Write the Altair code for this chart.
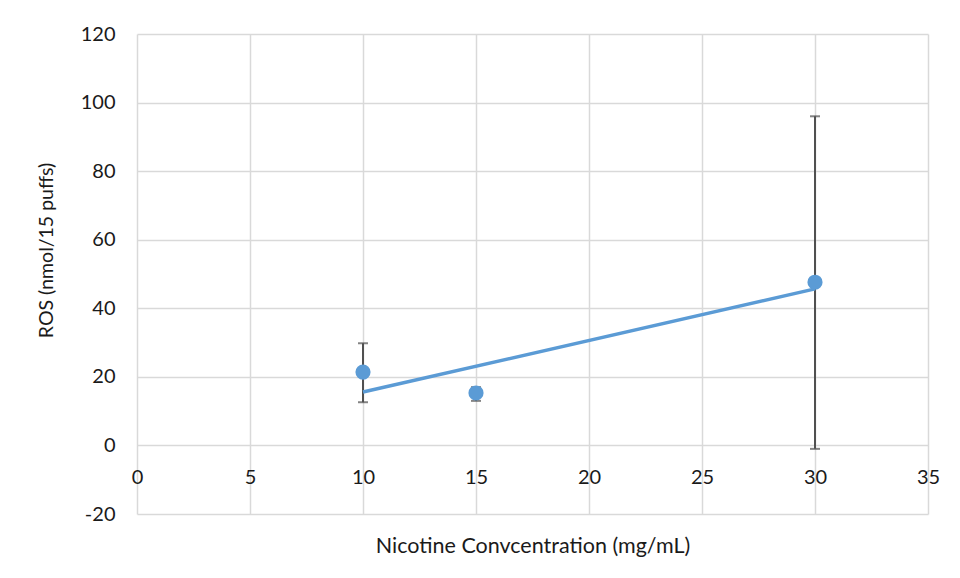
import altair as alt
import pandas as pd

conc = [10, 15, 30]
ros = [21.4, 15.3, 47.6]
err_low = [12.6, 13.0, -1.0]
err_high = [29.8, 17.0, 96.0]

x_ticks = [0, 5, 10, 15, 20, 25, 30, 35]
y_ticks = [-20, 0, 20, 40, 60, 80, 100, 120]

df = pd.DataFrame({"conc": conc, "ros": ros, "lo": err_low, "hi": err_high})

FONT = "Lato"
BLUE = "#5B9BD5"
GREY = "#505050"
TXT = "#1a1a1a"

xscale = alt.Scale(domain=[0, 35], nice=False, zero=False)
yscale = alt.Scale(domain=[-20, 120], nice=False, zero=False)

x_enc = alt.X(
    "conc:Q",
    scale=xscale,
    axis=alt.Axis(
        values=x_ticks,
        title="Nicotine Convcentration (mg/mL)",
        titleFontSize=21.5,
        offset=-69,
        domain=False,
        ticks=False,
        labelPadding=22,
        labelFlush=False,
        labelExpr="'' + datum.value",
        grid=True,
        titleY=101,
        titleBaseline="middle",
    ),
)
y_enc = alt.Y(
    "ros:Q",
    scale=yscale,
    axis=alt.Axis(
        values=y_ticks,
        title="ROS (nmol/15 puffs)",
        titleFontSize=19.5,
        domain=False,
        ticks=False,
        labelPadding=22,
        labelFlush=False,
        labelExpr="'' + datum.value",
        grid=True,
        titleAngle=-90,
        titleX=-91,
        titleY=216,
        titleAlign="center",
        titleBaseline="middle",
    ),
)

base = alt.Chart(df)

bars = base.mark_rule(color=GREY, strokeWidth=2).encode(
    x=x_enc, y=alt.Y("lo:Q", scale=yscale), y2="hi:Q"
)
cap_lo = base.mark_tick(color=GREY, thickness=2, size=10, orient="horizontal").encode(
    x="conc:Q", y=alt.Y("lo:Q", scale=yscale)
)
cap_hi = base.mark_tick(color=GREY, thickness=2, size=10, orient="horizontal").encode(
    x="conc:Q", y=alt.Y("hi:Q", scale=yscale)
)
trend = base.transform_regression("conc", "ros", extent=[10, 30]).mark_line(
    color=BLUE, strokeWidth=3.5
).encode(x=x_enc, y=y_enc)
points = base.mark_point(filled=True, color=BLUE, size=230, opacity=1).encode(
    x=x_enc, y=y_enc
)

chart = (
    alt.layer(bars, cap_lo, cap_hi, trend, points)
    .properties(
        width=791,
        height=480,
        background="white",
        autosize=alt.AutoSizeParams(type="none"),
        padding={"left": 129, "top": 26, "right": 20, "bottom": 50},
    )
    .configure_view(stroke=None)
    .configure_axis(
        gridColor="#D9D9D9",
        gridWidth=1.5,
        labelFont=FONT,
        titleFont=FONT,
        labelFontSize=20,
        labelColor=TXT,
        titleColor=TXT,
        labelFontWeight="normal",
        titleFontWeight="normal",
    )
)

chart.save("out.html", embed_options={"renderer": "svg", "actions": False})
